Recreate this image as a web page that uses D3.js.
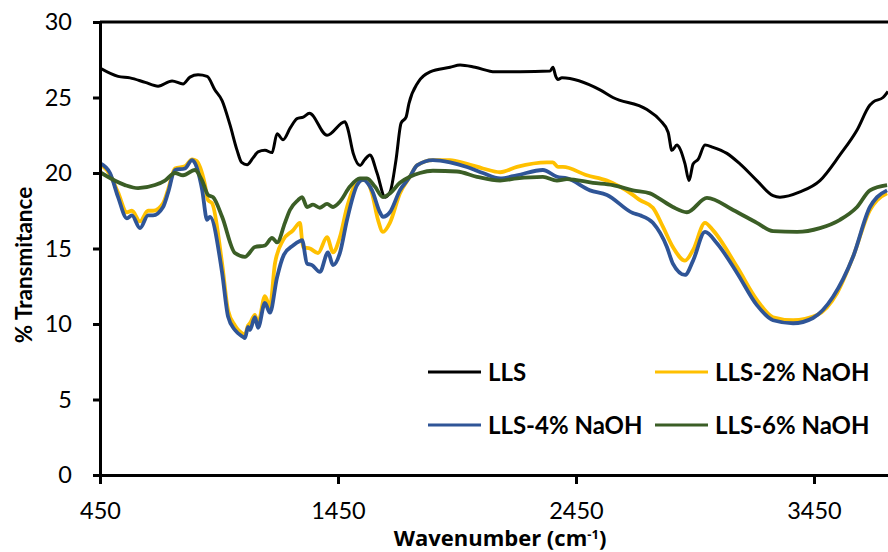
<html>
<head>
<title>FTIR spectra</title>
<script src="https://d3js.org/d3.v7.min.js" charset="utf-8"></script>
<style>
body { margin: 0; background: white; }
svg { display: block; overflow: hidden; font-family: Lato, "Open Sans", sans-serif; }
</style>
</head>
<body>
<script>
// wavenumber / transmittance pairs
var lls = [[450,26.95],[526,26.4],[576,26.3],[640,26.0],[694,25.75],[753,26.1],[799,25.9],[828,26.35],[862,26.5],[900,26.4],[933,25.5],[963,24.8],[996,23.2],[1026,21.5],[1045,20.7],[1068,20.55],[1093,21.0],[1114,21.4],[1143,21.5],[1173,21.35],[1194,22.6],[1219,22.2],[1250,23.0],[1278,23.6],[1304,23.7],[1330,23.95],[1404,22.5],[1479,23.4],[1490,23.0],[1514,21.3],[1543,20.5],[1563,20.9],[1584,21.2],[1614,20.0],[1648,18.4],[1669,18.75],[1694,20.9],[1715,23.3],[1736,23.7],[1748,24.6],[1786,26.0],[1837,26.7],[1921,27.0],[1963,27.15],[2026,27.0],[2110,26.7],[2215,26.7],[2341,26.75],[2353,27.0],[2365,26.4],[2374,26.2],[2391,26.3],[2551,25.5],[2605,25.0],[2748,24.2],[2803,23.5],[2837,22.7],[2853,21.5],[2874,21.85],[2887,21.6],[2908,20.6],[2925,19.5],[2942,20.6],[2963,20.9],[2992,21.85],[3026,21.7],[3084,21.3],[3139,20.6],[3210,19.5],[3278,18.5],[3307,18.4],[3391,18.75],[3475,19.5],[3559,21.2],[3631,22.85],[3685,24.5],[3698,24.7],[3740,25.0],[3761,25.4]];

var naoh2 = [[450,20.6],[492,19.9],[526,18.7],[563,17.4],[584,17.5],[618,16.8],[652,17.5],[673,17.5],[715,18.0],[736,18.9],[765,20.3],[807,20.45],[837,20.9],[855,20.8],[890,19.3],[904,18.2],[921,18.0],[963,14.0],[988,10.9],[1017,9.9],[1051,9.35],[1059,9.3],[1072,9.9],[1080,10.05],[1101,10.6],[1114,10.05],[1143,11.85],[1164,11.15],[1185,14.0],[1219,15.55],[1261,16.2],[1290,16.7],[1303,15.1],[1332,15.0],[1366,14.7],[1404,15.75],[1429,14.75],[1458,15.75],[1488,17.75],[1530,19.4],[1563,19.55],[1593,18.65],[1618,16.9],[1639,16.1],[1668,16.7],[1710,18.65],[1752,19.75],[1782,20.5],[1849,20.85],[1921,20.85],[1992,20.6],[2059,20.3],[2131,20.05],[2202,20.4],[2328,20.7],[2353,20.7],[2374,20.4],[2395,20.4],[2496,19.85],[2580,19.5],[2689,18.55],[2719,18.2],[2773,17.7],[2815,16.45],[2857,15.1],[2908,14.2],[2942,14.9],[2992,16.7],[3026,16.2],[3126,13.8],[3210,11.6],[3278,10.45],[3362,10.25],[3463,10.6],[3547,12.05],[3614,14.45],[3685,17.55],[3715,18.2],[3757,18.65]];

var naoh4 = [[450,20.65],[492,20.0],[526,18.4],[563,17.0],[584,17.2],[618,16.35],[652,17.2],[673,17.2],[715,17.75],[736,18.7],[765,20.2],[807,20.3],[837,20.85],[849,20.65],[879,18.9],[900,16.9],[912,17.1],[963,13.4],[988,10.5],[1017,9.6],[1051,9.15],[1059,9.07],[1072,9.8],[1080,9.6],[1101,10.45],[1114,9.75],[1143,11.4],[1164,10.75],[1194,13.1],[1223,14.6],[1261,15.2],[1290,15.5],[1299,15.55],[1320,14.0],[1341,13.9],[1374,13.45],[1408,14.75],[1429,13.9],[1458,14.7],[1488,16.9],[1530,19.2],[1555,19.55],[1593,18.85],[1626,17.4],[1639,17.1],[1668,17.4],[1710,18.85],[1752,19.75],[1782,20.5],[1849,20.85],[1921,20.7],[1992,20.4],[2059,20.0],[2131,19.65],[2202,19.85],[2311,20.2],[2370,19.75],[2412,19.65],[2509,18.85],[2580,18.55],[2689,17.35],[2719,17.2],[2773,16.7],[2832,15.1],[2857,14.0],[2908,13.25],[2942,14.2],[2992,16.1],[3042,15.35],[3126,13.4],[3210,11.25],[3278,10.25],[3362,10.05],[3446,10.4],[3530,11.8],[3614,14.45],[3685,17.75],[3715,18.4],[3757,18.85]];

var naoh6 = [[450,20.05],[555,19.2],[610,19.0],[681,19.2],[723,19.5],[765,20.0],[799,19.85],[849,20.2],[879,19.5],[904,18.55],[925,18.4],[963,17.1],[1017,14.7],[1059,14.45],[1101,15.1],[1143,15.2],[1173,15.7],[1194,15.4],[1227,16.7],[1248,17.55],[1282,18.2],[1299,18.4],[1320,17.75],[1345,17.9],[1374,17.7],[1404,17.95],[1429,17.75],[1458,18.1],[1500,19.1],[1542,19.65],[1572,19.65],[1605,19.1],[1639,18.4],[1668,18.65],[1710,19.35],[1752,19.75],[1794,20.0],[1849,20.15],[1950,20.1],[2034,19.75],[2131,19.5],[2202,19.65],[2311,19.75],[2370,19.5],[2412,19.6],[2521,19.35],[2605,19.2],[2689,18.85],[2761,18.65],[2790,18.4],[2857,17.75],[2916,17.4],[3000,18.35],[3110,17.55],[3210,16.7],[3278,16.15],[3379,16.1],[3475,16.35],[3559,16.9],[3631,17.75],[3685,18.85],[3757,19.2]];

var seriesNames = ["LLS", "LLS-2% NaOH", "LLS-4% NaOH", "LLS-6% NaOH"];
var seriesColors = ["#000000", "#FFC000", "#2F5597", "#3B5E26"];
var xTicks = [450, 1450, 2450, 3450];
var yTicks = [0, 5, 10, 15, 20, 25, 30];

var width = 888, height = 552;
var plotLeft = 100, plotTop = 22, plotBottom = 475;

var svg = d3.select("body").append("svg")
  .attr("width", width)
  .attr("height", height);

// axis runs on past the right edge, the picture is cropped there
var x = d3.scaleLinear().domain([450, 4000]).range([plotLeft, plotLeft + 3550 * 0.238]);
var y = d3.scaleLinear().domain([0, 30]).range([plotBottom, plotTop]);

svg.append("clipPath").attr("id", "plot")
  .append("rect").attr("x", plotLeft).attr("y", plotTop).attr("width", 900).attr("height", plotBottom - plotTop);

var line = d3.line()
  .x(function(d) { return x(d[0]); })
  .y(function(d) { return y(d[1]); })
  .curve(d3.curveMonotoneX);

var data = [lls, naoh2, naoh4, naoh6];
svg.append("g").attr("clip-path", "url(#plot)")
  .selectAll("path")
  .data(data)
  .enter()
  .append("path")
  .attr("fill", "none")
  .attr("stroke", function(d, i) { return seriesColors[i]; })
  .attr("stroke-width", function(d, i) { return i == 0 ? 3 : 3.8; })
  .attr("stroke-linejoin", "round")
  .attr("d", line);

// top border of plot area
svg.append("line")
  .attr("x1", plotLeft).attr("x2", width).attr("y1", plotTop).attr("y2", plotTop)
  .attr("stroke", "#000").attr("stroke-width", 3);

var yAxis = svg.append("g")
  .attr("transform", "translate(" + plotLeft + ",0)")
  .call(d3.axisLeft(y).tickValues(yTicks).tickFormat(d3.format("d")).tickSize(7).tickPadding(21).tickSizeOuter(0));
var xAxis = svg.append("g")
  .attr("transform", "translate(0," + plotBottom + ")")
  .call(d3.axisBottom(x).tickValues(xTicks).tickFormat(d3.format("d")).tickSize(9).tickPadding(18).tickSizeOuter(0));

[xAxis, yAxis].forEach(function(a) {
  a.select(".domain").attr("stroke", "#000").attr("stroke-width", 3);
  a.selectAll(".tick line").attr("stroke", "#000").attr("stroke-width", 3);
  a.selectAll(".tick text").attr("font-family", "Lato, sans-serif").attr("font-size", 23.5).attr("fill", "#000");
});

// axis titles
var xt = svg.append("text")
  .attr("x", 500).attr("y", 546)
  .attr("text-anchor", "middle")
  .attr("font-family", "'Open Sans', sans-serif")
  .attr("font-size", 22).attr("font-weight", "bold");
xt.append("tspan").text("Wavenumber (cm");
xt.append("tspan").attr("font-size", 13).attr("dy", -7).text("-1");
xt.append("tspan").attr("dy", 7).text(")");

svg.append("text")
  .attr("transform", "translate(32,265) rotate(-90)")
  .attr("text-anchor", "middle")
  .attr("font-size", 22.5).attr("font-weight", "bold")
  .text("% Transmitance");

// legend
var legendPos = [[428, 372], [655, 372], [428, 425], [655, 425]];
var leg = svg.append("g").selectAll("g")
  .data(seriesNames)
  .enter()
  .append("g")
  .attr("transform", function(d, i) { return "translate(" + legendPos[i][0] + "," + legendPos[i][1] + ")"; });
leg.append("line")
  .attr("x1", 0).attr("x2", 53)
  .attr("stroke", function(d, i) { return seriesColors[i]; })
  .attr("stroke-width", 3.2);
leg.append("text")
  .attr("x", 60).attr("dy", "0.36em")
  .attr("font-size", 24).attr("font-weight", "bold")
  .text(function(d) { return d; });
</script>
</body>
</html>
